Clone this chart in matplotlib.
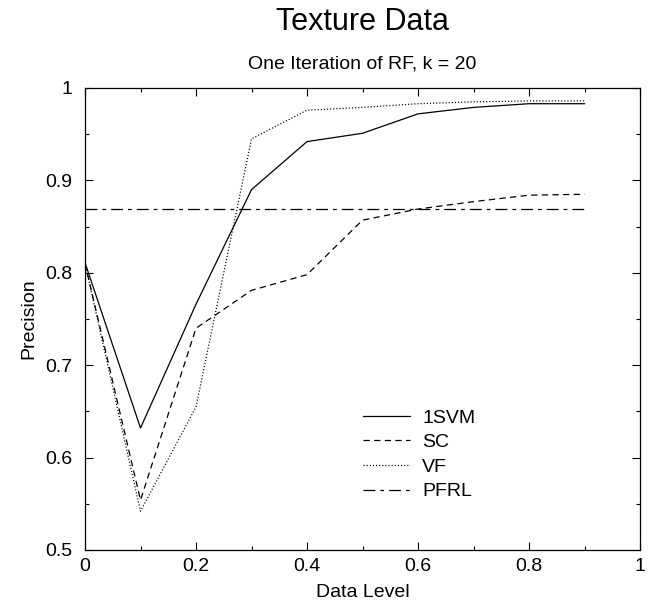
import matplotlib
matplotlib.use("Agg")
import matplotlib.pyplot as plt

plt.rcParams["font.family"] = ["Liberation Sans", "DejaVu Sans"]

data_level = [0.0, 0.1, 0.2, 0.3, 0.4, 0.5, 0.6, 0.7, 0.8, 0.9]
svm = [0.811, 0.632, 0.766, 0.890, 0.942, 0.951, 0.972, 0.979, 0.983, 0.983]
sc = [0.810, 0.554, 0.740, 0.781, 0.798, 0.857, 0.869, 0.877, 0.884, 0.885]
vf = [0.810, 0.542, 0.655, 0.945, 0.976, 0.979, 0.983, 0.985, 0.986, 0.986]
pfrl = [0.869] * len(data_level)

labels = ["1SVM", "SC", "VF", "PFRL"]
styles = ["-", (0, (5, 3.5)), (0, (0.9, 1.6)), (0, (9.5, 4, 3, 4))]

W, H = 651, 606
fig = plt.figure(figsize=(W / 100, H / 100), dpi=100)
ax = fig.add_axes([85 / W, 1 - 550 / H, (640 - 85) / W, (550 - 88) / H])

for ys, ls, lab in zip([svm, sc, vf, pfrl], styles, labels):
    ax.plot(data_level, ys, color="black", linestyle=ls, linewidth=0.9, label=lab)

ax.set_xlim(0, 1)
ax.set_ylim(0.5, 1)
ax.set_xticks([0, 0.2, 0.4, 0.6, 0.8, 1])
ax.set_xticklabels(["0", "0.2", "0.4", "0.6", "0.8", "1"])
ax.set_xticks([0.1, 0.3, 0.5, 0.7, 0.9], minor=True)
ax.set_yticks([0.5, 0.6, 0.7, 0.8, 0.9, 1.0])
ax.set_yticklabels(["0.5", "0.6", "0.7", "0.8", "0.9", "1"])
ax.set_yticks([0.55, 0.65, 0.75, 0.85, 0.95], minor=True)
ax.tick_params(which="both", direction="in", top=True, right=True, width=0.8, labelsize=14)
ax.tick_params(which="major", length=5.5)
ax.tick_params(which="minor", length=2.8)
ax.tick_params(axis="x", pad=6)
ax.tick_params(axis="y", pad=9)
for s in ax.spines.values():
    s.set_linewidth(0.9)

ax.set_xlabel("Data Level", fontsize=14, labelpad=6)
ax.set_ylabel("Precision", fontsize=14, labelpad=6)

fig.text((85 + 640) / 2 / W, 1 - 22 / H, "Texture Data", fontsize=22, ha="center", va="center")
fig.text((85 + 640) / 2 / W, 1 - 64 / H, "One Iteration of RF, k = 20", fontsize=14, ha="center", va="center")

ax.legend(loc="upper left", bbox_to_anchor=(363 / W, 1 - 409 / H), bbox_transform=fig.transFigure,
          frameon=False, fontsize=14, handlelength=2.4, handletextpad=0.65, labelspacing=0.36,
          borderpad=0, borderaxespad=0)

fig.savefig("out.png", dpi=100)
